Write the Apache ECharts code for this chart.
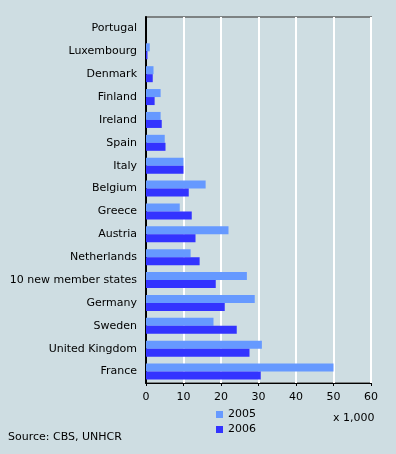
<!DOCTYPE html>
<html><head><meta charset="utf-8">
<script src="https://cdn.jsdelivr.net/npm/echarts@6/dist/echarts.min.js"></script>
<style>html,body{margin:0;padding:0;background:#cedde2;}#c{width:396px;height:454px;}</style>
</head><body><div id="c"></div>
<script>
const categories = ["Portugal","Luxembourg","Denmark","Finland","Ireland","Spain","Italy","Belgium","Greece","Austria","Netherlands","10 new member states","Germany","Sweden","United Kingdom","France"];
const values2005 = [0, 1.0, 2.0, 3.9, 3.9, 5.0, 10.0, 15.9, 9.0, 22.0, 11.9, 26.9, 29.0, 18.0, 30.9, 50.0];
const values2006 = [0, 0.4, 1.8, 2.3, 4.2, 5.2, 10.0, 11.4, 12.2, 13.2, 14.3, 18.6, 21.0, 24.2, 27.6, 30.6];
const xTicks = [0, 10, 20, 30, 40, 50, 60];
const seriesNames = ["2005", "2006"];
const font = 'DejaVu Sans';
const chart = echarts.init(document.getElementById('c'), null, {renderer: 'canvas'});
chart.setOption({
  backgroundColor: '#cedde2',
  animation: false,
  grid: {left: 146, top: 17, right: 25, bottom: 71, show: true, borderColor: '#7d8283', borderWidth: 2, backgroundColor: 'transparent'},
  legend: {
    data: seriesNames, orient: 'vertical', left: 214, top: 407, itemWidth: 7, itemHeight: 7, itemGap: 4,
    icon: 'rect', textStyle: {fontFamily: font, fontSize: 11, color: '#000'}, padding: 2
  },
  xAxis: {
    type: 'value', min: xTicks[0], max: xTicks[xTicks.length-1], interval: 10,
    axisLine: {show: true, lineStyle: {color: '#000', width: 1}},
    axisTick: {show: true, length: 3, lineStyle: {color: '#000'}},
    splitLine: {show: true, lineStyle: {color: '#ffffff', width: 2}},
    axisLabel: {fontFamily: font, fontSize: 11, color: '#000', margin: 9}
  },
  yAxis: {
    type: 'category', data: categories, inverse: true,
    axisLine: {show: true, lineStyle: {color: '#000', width: 2}},
    axisTick: {show: false},
    axisLabel: {fontFamily: font, fontSize: 11, color: '#000', margin: 9}
  },
  series: [
    {name: seriesNames[0], type: 'bar', data: values2005, barWidth: 8, barGap: '0%', itemStyle: {color: '#6699ff'}},
    {name: seriesNames[1], type: 'bar', data: values2006, barWidth: 8, barGap: '0%', itemStyle: {color: '#3333ff'}}
  ],
  graphic: [
    {type: 'text', left: 333, top: 413, style: {text: 'x 1,000', font: '11px DejaVu Sans', fill: '#000'}},
    {type: 'text', left: 8, top: 432, style: {text: 'Source: CBS, UNHCR', font: '11px DejaVu Sans', fill: '#000'}}
  ]
});
</script></body></html>
